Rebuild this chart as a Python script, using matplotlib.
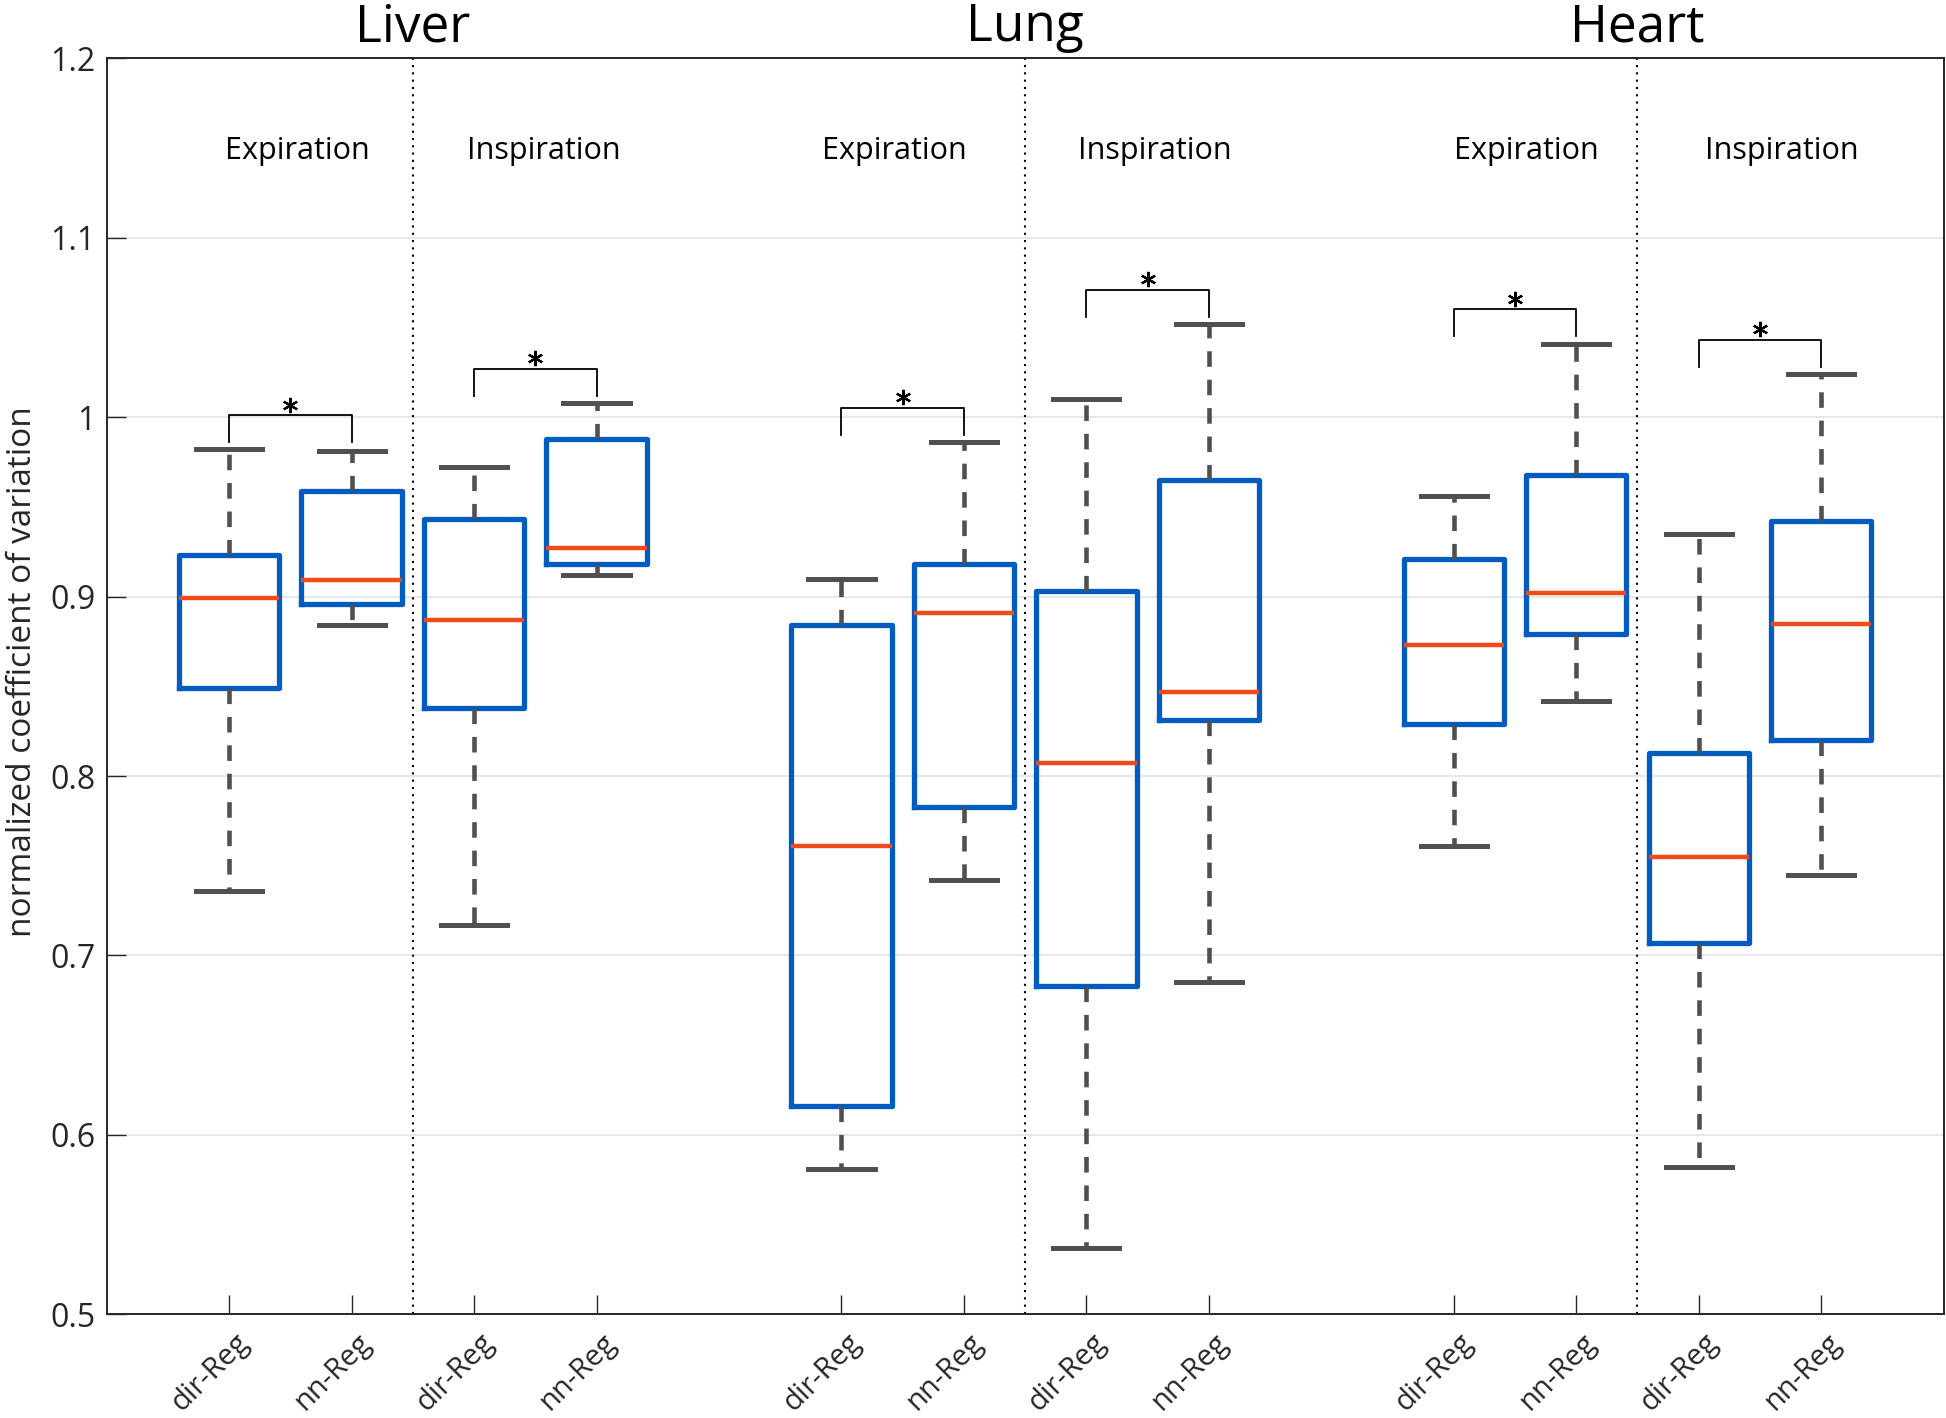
import matplotlib.pyplot as plt
import matplotlib.transforms as mtransforms

# organ / breathing phase / method layout
organs = ['Liver', 'Lung', 'Heart']
phases = ['Expiration', 'Inspiration']
methods = ['dir-Reg', 'nn-Reg']

# box statistics, order: Liver Exp (dir, nn), Liver Insp (dir, nn), Lung ..., Heart ...
whis_lo = [0.736, 0.884, 0.717, 0.912, 0.581, 0.742, 0.537, 0.685, 0.761, 0.842, 0.582, 0.745]
q1      = [0.849, 0.896, 0.838, 0.918, 0.616, 0.783, 0.683, 0.831, 0.829, 0.879, 0.707, 0.820]
med     = [0.899, 0.909, 0.887, 0.927, 0.761, 0.891, 0.807, 0.847, 0.873, 0.902, 0.755, 0.885]
q3      = [0.923, 0.959, 0.943, 0.988, 0.884, 0.918, 0.903, 0.965, 0.921, 0.968, 0.813, 0.942]
whis_hi = [0.982, 0.981, 0.972, 1.008, 0.910, 0.986, 1.010, 1.052, 0.956, 1.041, 0.935, 1.024]

# every dir-Reg vs nn-Reg pair is marked significant
signif = ['*', '*', '*', '*', '*', '*']

yticks = [0.5, 0.6, 0.7, 0.8, 0.9, 1.0, 1.1, 1.2]
ytick_labels = ['0.5', '0.6', '0.7', '0.8', '0.9', '1', '1.1', '1.2']

plt.rcParams['font.family'] = ['Open Sans', 'DejaVu Sans']

# x positions: 4 boxes per organ with an empty slot between organs
positions = []
for g in range(len(organs)):
    positions += [g * 5 + k + 1 for k in range(4)]

stats = []
for i in range(len(positions)):
    stats.append({'whislo': whis_lo[i], 'q1': q1[i], 'med': med[i],
                  'q3': q3[i], 'whishi': whis_hi[i], 'fliers': []})

fig = plt.figure(figsize=(19.46, 14.18), dpi=100)
ax = fig.add_axes([0.0548, 0.0731, 0.944, 0.8858])

blue = '#005cc0'
red = '#f0491a'
grey = '#505050'

ax.bxp(stats, positions=positions, widths=0.82, capwidths=0.54,
       showfliers=False, patch_artist=False,
       boxprops=dict(color=blue, linewidth=3.8),
       medianprops=dict(color=red, linewidth=3.2),
       whiskerprops=dict(color=grey, linewidth=3.3, linestyle=(0, (3.4, 2.8))),
       capprops=dict(color=grey, linewidth=3.6),
       zorder=3)

ax.set_xlim(0, 15)
ax.set_ylim(0.5, 1.2)
ax.set_yticks(yticks)
ax.set_yticklabels(ytick_labels, fontsize=23, color='#262626')
ax.set_xticks(positions)
ax.set_xticklabels([])
ax.tick_params(axis='both', direction='in', length=14, width=1.0, color='#262626')
ax.tick_params(axis='y', pad=8)
ax.yaxis.grid(True, color='#e3e3e3', linewidth=1.2, zorder=0)
ax.set_axisbelow(True)
for sp in ax.spines.values():
    sp.set_color('#262626')
    sp.set_linewidth(1.4)

# rotated method labels under each box, nudged right like the original
lab_tr = ax.get_xaxis_transform() + mtransforms.ScaledTranslation(0.15, -17 / 72, fig.dpi_scale_trans)
for i, pos in enumerate(positions):
    ax.text(pos, 0, methods[i % 2], transform=lab_tr, fontsize=21, color='#262626',
            rotation=45, ha='right', va='center', rotation_mode='anchor', clip_on=False)

ax.set_ylabel('normalized coefficient of variation', fontsize=24, color='#262626')
ax.yaxis.set_label_coords(-0.037, 0.512)

# small horizontal nudges of the phase labels (data units)
phase_shift = [0.06, 0.07, -0.07, 0.06, 0.09, 0.18]

# organ titles, phase labels and separators
for g, organ in enumerate(organs):
    p = positions[g * 4:(g + 1) * 4]
    mid = (p[1] + p[2]) / 2
    ax.text(mid, 1.2095, organ, fontsize=37, ha='center', va='baseline', clip_on=False)
    ax.axvline(mid, color='k', linestyle=(0, (1, 2.5)), linewidth=1.5, zorder=1)
    for k, phase in enumerate(phases):
        c = (p[2 * k] + p[2 * k + 1]) / 2 + phase_shift[g * 2 + k]
        ax.text(c, 1.144, phase, fontsize=22, ha='center', va='baseline')

# significance brackets
for j in range(len(signif)):
    a, b = positions[2 * j], positions[2 * j + 1]
    top = max(whis_hi[2 * j], whis_hi[2 * j + 1]) + 0.019
    leg = top - 0.015
    ax.plot([a, a, b, b], [leg, top, top, leg], color='k', linewidth=1.3, zorder=4)
    ax.plot((a + b) / 2, top + 0.006, marker=(6, 2, 0), color='k',
            markersize=11, markeredgewidth=1.6, zorder=4)

fig.savefig('out.png', dpi=100)
